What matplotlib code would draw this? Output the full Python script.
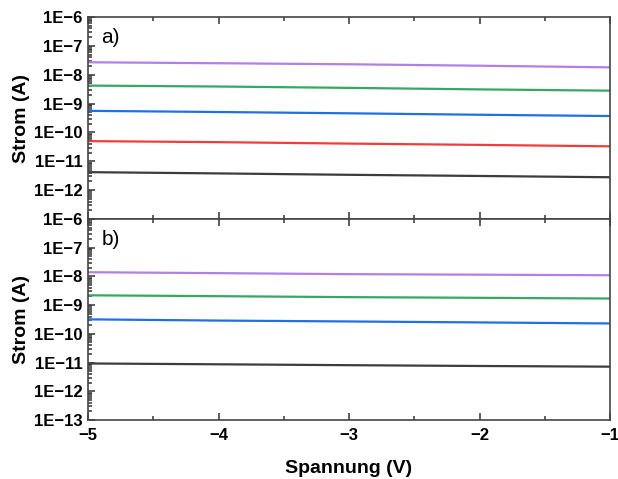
import numpy as np
import matplotlib
matplotlib.use("Agg")
import matplotlib.pyplot as plt
from matplotlib.ticker import FuncFormatter, LogLocator, MultipleLocator, NullFormatter

plt.rcParams['font.family'] = ['Liberation Sans', 'DejaVu Sans']

# data
volt = [-5, -4, -3, -2, -1]
top_purple = [2.7e-8, 2.5e-8, 2.3e-8, 2.05e-8, 1.8e-8]
top_green = [4.2e-9, 3.9e-9, 3.5e-9, 3.1e-9, 2.8e-9]
top_blue = [5.6e-10, 5.1e-10, 4.6e-10, 4.1e-10, 3.7e-10]
top_red = [5.0e-11, 4.6e-11, 4.1e-11, 3.7e-11, 3.3e-11]
top_black = [4.2e-12, 3.8e-12, 3.4e-12, 3.1e-12, 2.8e-12]
bot_purple = [1.4e-8, 1.3e-8, 1.2e-8, 1.15e-8, 1.1e-8]
bot_green = [2.2e-9, 2.05e-9, 1.9e-9, 1.8e-9, 1.7e-9]
bot_blue = [3.2e-10, 2.9e-10, 2.7e-10, 2.5e-10, 2.3e-10]
bot_black = [9.3e-12, 8.7e-12, 8.1e-12, 7.6e-12, 7.2e-12]

c_purple = '#b27fe6'
c_green = '#35a862'
c_blue = '#1f6fe5'
c_red = '#f23c3c'
c_black = '#3c3c3c'

fig = plt.figure(figsize=(6.18, 4.79), dpi=100)
ax1 = fig.add_axes([0.1424, 0.5428, 0.8447, 0.4217])
ax2 = fig.add_axes([0.1424, 0.1232, 0.8447, 0.4196])

def efmt(v, pos, skip_bottom):
    e = int(round(np.log10(v)))
    if skip_bottom and e == -13:
        return ''
    return '1E\u2212%d' % (-e)

for ax, series, lab, skip in [
    (ax1, [(top_purple, c_purple), (top_green, c_green), (top_blue, c_blue),
           (top_red, c_red), (top_black, c_black)], 'a)', True),
    (ax2, [(bot_purple, c_purple), (bot_green, c_green), (bot_blue, c_blue),
           (bot_black, c_black)], 'b)', False)]:
    for y, c in series:
        ax.plot(volt, y, color=c, lw=1.6)
    ax.set_yscale('log')
    ax.set_ylim(1e-13, 1e-6)
    ax.set_xlim(-5, -1)
    ax.yaxis.set_major_locator(LogLocator(base=10, numticks=20))
    ax.yaxis.set_minor_locator(LogLocator(base=10, subs=np.arange(2, 10), numticks=20))
    ax.yaxis.set_minor_formatter(NullFormatter())
    ax.yaxis.set_major_formatter(FuncFormatter(lambda v, p, s=skip: efmt(v, p, s)))
    ax.xaxis.set_major_locator(MultipleLocator(1))
    ax.xaxis.set_minor_locator(MultipleLocator(0.5))
    ax.tick_params(which='both', direction='in', top=True, right=False,
                   labelsize=12, width=1.1, color='#333333')
    ax.tick_params(which='major', length=5, pad=4)
    ax.tick_params(which='minor', length=3)
    for lbl in ax.get_yticklabels() + ax.get_xticklabels():
        lbl.set_fontweight('bold')
    for s in ax.spines.values():
        s.set_linewidth(1.2)
        s.set_color('#444444')
    ax.set_ylabel('Strom (A)', fontsize=14, fontweight='bold', labelpad=3)
    ax.text(0.026, 0.9, lab, transform=ax.transAxes, fontsize=15, va='center')

ax1.tick_params(labelbottom=False)
ax2.tick_params(axis='x', pad=6)
ax2.set_xlabel('Spannung (V)', fontsize=14, fontweight='bold', labelpad=12)

fig.savefig('out.png', dpi=100)
